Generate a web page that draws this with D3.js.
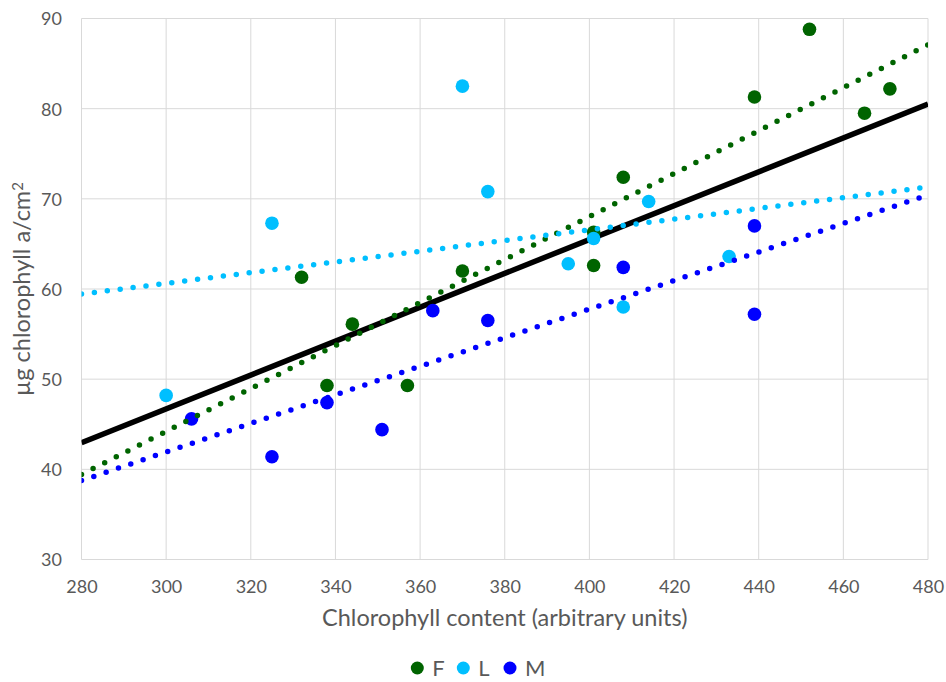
<!DOCTYPE html>
<html>
<head>
<meta charset="utf-8">
<script src="https://cdn.jsdelivr.net/npm/d3@7"></script>
<style>
  html, body { margin: 0; padding: 0; background: #fff; }
  svg { display: block; font-family: Lato, "Open Sans", sans-serif; }
</style>
</head>
<body>
<svg id="chart" width="946" height="682"></svg>
<script>
// Chlorophyll meter readings vs. extracted chlorophyll a, per leaf group
const seriesNames = ["F", "L", "M"];
const seriesColors = ["#006400", "#00BFFF", "#0000FF"];

const fContent = [332, 338, 344, 357, 370, 401, 401, 408, 439, 452, 465, 471];
const fChl     = [61.3, 49.3, 56.1, 49.3, 62.0, 62.6, 66.3, 72.4, 81.3, 88.8, 79.5, 82.2];

const lContent = [300, 325, 370, 376, 395, 401, 408, 414, 433];
const lChl     = [48.2, 67.3, 82.5, 70.8, 62.8, 65.6, 58.0, 69.7, 63.6];

const mContent = [306, 325, 338, 351, 363, 376, 408, 439, 439];
const mChl     = [45.6, 41.4, 47.4, 44.4, 57.6, 56.5, 62.4, 67.0, 57.2];

const xTicks = [280, 300, 320, 340, 360, 380, 400, 420, 440, 460, 480];
const yTicks = [30, 40, 50, 60, 70, 80, 90];

const xTitle = "Chlorophyll content (arbitrary units)";
const yTitleMain = "µg chlorophyll a/cm";
const yTitleSup = "2";

// ---------------------------------------------------------------
const series = [
  { name: seriesNames[0], color: seriesColors[0], xs: fContent, ys: fChl },
  { name: seriesNames[1], color: seriesColors[1], xs: lContent, ys: lChl },
  { name: seriesNames[2], color: seriesColors[2], xs: mContent, ys: mChl }
];

function linearFit(xs, ys) {
  const n = xs.length;
  const mx = d3.mean(xs), my = d3.mean(ys);
  let sxy = 0, sxx = 0;
  for (let i = 0; i < n; i++) {
    sxy += (xs[i] - mx) * (ys[i] - my);
    sxx += (xs[i] - mx) * (xs[i] - mx);
  }
  const slope = sxy / sxx;
  return { slope, intercept: my - slope * mx };
}

const svg = d3.select("#chart");
const plot = { left: 81.5, right: 928, top: 18.5, bottom: 559.5 };

const x = d3.scaleLinear().domain([280, 480]).range([plot.left, plot.right]);
const y = d3.scaleLinear().domain([30, 90]).range([plot.bottom, plot.top]);

const gridColor = "#D9D9D9";
const textColor = "#595959";

svg.append("defs").append("clipPath").attr("id", "plotClip")
  .append("rect")
  .attr("x", plot.left).attr("y", plot.top)
  .attr("width", plot.right - plot.left).attr("height", plot.bottom - plot.top);

// gridlines
const grid = svg.append("g");
grid.selectAll("line.v").data(xTicks).join("line")
  .attr("x1", d => x(d)).attr("x2", d => x(d))
  .attr("y1", plot.top).attr("y2", plot.bottom)
  .attr("stroke", gridColor).attr("stroke-width", 1);
grid.selectAll("line.h").data(yTicks).join("line")
  .attr("y1", d => y(d)).attr("y2", d => y(d))
  .attr("x1", plot.left).attr("x2", plot.right)
  .attr("stroke", gridColor).attr("stroke-width", 1);

// axes (labels only, Excel style)
const xAxis = d3.axisBottom(x).tickValues(xTicks).tickSize(0).tickPadding(0);
const gx = svg.append("g").attr("transform", `translate(0,${plot.bottom})`).call(xAxis);
gx.select(".domain").remove();
gx.selectAll("text")
  .attr("y", 0).attr("dy", null)
  .attr("transform", "translate(0,33)")
  .attr("fill", textColor).style("font-size", "18px").style("font-family", "Lato");

const yAxis = d3.axisLeft(y).tickValues(yTicks).tickSize(0).tickPadding(0);
const gy = svg.append("g").attr("transform", `translate(62,0)`).call(yAxis);
gy.select(".domain").remove();
gy.selectAll("text")
  .attr("x", 0).attr("dy", "0.36em")
  .attr("fill", textColor).style("font-size", "18px").style("font-family", "Lato");

// overall fit (all groups pooled)
const allX = [].concat(fContent, lContent, mContent);
const allY = [].concat(fChl, lChl, mChl);
const allFit = linearFit(allX, allY);
const lineGen = fit => [280, 480].map(v => [x(v), y(fit.intercept + fit.slope * v)]);

svg.append("path")
  .attr("clip-path", "url(#plotClip)")
  .attr("d", d3.line()(lineGen(allFit)))
  .attr("stroke", "#000").attr("stroke-width", 5.5).attr("fill", "none");

// markers
series.forEach(s => {
  svg.append("g").selectAll("circle")
    .data(s.xs.map((v, i) => [v, s.ys[i]]))
    .join("circle")
    .attr("cx", d => x(d[0])).attr("cy", d => y(d[1]))
    .attr("r", 6.8).attr("fill", s.color);
});

// per-group dotted trendlines
series.forEach(s => {
  const fit = linearFit(s.xs, s.ys);
  svg.append("path")
    .attr("clip-path", "url(#plotClip)")
    .attr("d", d3.line()(lineGen(fit)))
    .attr("stroke", s.color).attr("stroke-width", 5.5)
    .attr("stroke-linecap", "round").attr("stroke-dasharray", "0 13")
    .attr("fill", "none");
});

// axis titles
svg.append("text")
  .attr("x", (plot.left + plot.right) / 2).attr("y", 626)
  .attr("text-anchor", "middle").attr("fill", textColor)
  .style("font-size", "23.5px").text(xTitle);

const yt = svg.append("text")
  .attr("transform", `translate(30,${(plot.top + plot.bottom) / 2}) rotate(-90)`)
  .attr("text-anchor", "middle").attr("fill", textColor)
  .style("font-size", "23.5px");
yt.append("tspan").text(yTitleMain);
yt.append("tspan").attr("dy", "-0.45em").style("font-size", "15px").text(yTitleSup);

// legend
const legendX = [417.3, 463.3, 510];
const lg = svg.append("g");
series.forEach((s, i) => {
  lg.append("circle").attr("cx", legendX[i]).attr("cy", 668).attr("r", 6.5).attr("fill", s.color);
  lg.append("text").attr("x", legendX[i] + 15).attr("y", 676)
    .attr("fill", textColor).style("font-size", "22px").text(s.name);
});
</script>
</body>
</html>
